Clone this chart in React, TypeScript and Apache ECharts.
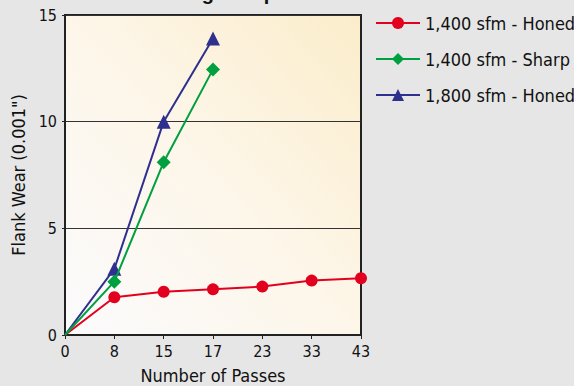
import React, { useEffect, useRef } from "react";
import * as echarts from "echarts";

const categories = ["0", "8", "15", "17", "23", "33", "43"];
const honed1400 = [0, 1.77, 2.03, 2.14, 2.27, 2.55, 2.66];
const sharp1400 = [0, 2.5, 8.1, 12.45, null, null, null];
const honed1800 = [0, 3.1, 10.0, 13.9, null, null, null];
const seriesNames = ["1,400 sfm - Honed", "1,400 sfm - Sharp", "1,800 sfm - Honed"];
const yTicks = { min: 0, max: 15, interval: 5 };

const FONT = "'DejaVu Sans Condensed', 'Liberation Sans Narrow', sans-serif";

// the origin point has no marker in the reference
const withHiddenOrigin = (arr: (number | null)[]) =>
  arr.map((v, i) => (i === 0 ? { value: v, symbol: "none" } : v));

export default function App() {
  const ref = useRef<HTMLDivElement>(null);
  useEffect(() => {
    document.body.style.margin = "0";
    const chart = echarts.init(ref.current!, null, { renderer: "svg" });
    chart.setOption({
      animation: false,
      backgroundColor: "#e6e6e6",
      textStyle: { fontFamily: FONT },
      graphic: [
        {
          type: "text",
          x: 145,
          y: -7,
          style: {
            text: "Honing Comparison",
            font: "bold 20px 'Liberation Sans', Arial, sans-serif",
            fill: "#111",
            textVerticalAlign: "middle",
          },
        },
      ],
      grid: {
        left: 65,
        right: 213,
        top: 15,
        bottom: 51,
        outerBoundsMode: "none",
        containLabel: false,
        show: true,
        borderColor: "#222",
        borderWidth: 2,
        backgroundColor: {
          type: "linear",
          x: 0,
          y: 1,
          x2: 1,
          y2: 0,
          colorStops: [
            { offset: 0, color: "#fbfbfd" },
            { offset: 0.5, color: "#fdf6e9" },
            { offset: 1, color: "#fbedcb" },
          ],
        },
      },
      legend: {
        orient: "vertical",
        left: 370,
        top: 9,
        itemWidth: 44,
        itemHeight: 15,
        itemGap: 18,
        textStyle: { fontFamily: FONT, fontSize: 18, color: "#111" },
        data: seriesNames,
      },
      xAxis: {
        type: "category",
        data: categories,
        boundaryGap: false,
        name: "Number of Passes",
        nameLocation: "middle",
        nameGap: 31,
        nameTextStyle: { fontFamily: FONT, fontSize: 18, color: "#111" },
        axisLine: { lineStyle: { color: "#222", width: 2 } },
        axisTick: { show: true, length: 4, lineStyle: { color: "#222" } },
        axisLabel: { fontFamily: FONT, fontSize: 16, color: "#111", margin: 8 },
        splitLine: { show: false },
      },
      yAxis: {
        type: "value",
        min: yTicks.min,
        max: yTicks.max,
        interval: yTicks.interval,
        name: 'Flank Wear (0.001")',
        nameLocation: "middle",
        nameGap: 28,
        nameTextStyle: { fontFamily: FONT, fontSize: 18, color: "#111" },
        axisLine: { show: true, lineStyle: { color: "#222", width: 2 } },
        axisTick: { show: true, length: 3, lineStyle: { color: "#222" } },
        axisLabel: { fontFamily: FONT, fontSize: 16, color: "#111", margin: 8 },
        splitLine: { show: true, lineStyle: { color: "#333", width: 1 } },
      },
      series: [
        {
          name: seriesNames[0],
          type: "line",
          data: withHiddenOrigin(honed1400),
          symbol: "circle",
          symbolSize: 12,
          showAllSymbol: true,
          color: "#e2001f",
          lineStyle: { width: 2 },
          z: 2,
        },
        {
          name: seriesNames[1],
          type: "line",
          data: withHiddenOrigin(sharp1400),
          symbol: "diamond",
          symbolSize: 14,
          color: "#00a040",
          lineStyle: { width: 2 },
          z: 4,
        },
        {
          name: seriesNames[2],
          type: "line",
          data: withHiddenOrigin(honed1800),
          symbol: "triangle",
          symbolSize: 14,
          color: "#2e2f8e",
          lineStyle: { width: 2 },
          z: 3,
        },
      ],
    });
    return () => chart.dispose();
  }, []);
  return (
    <div
      ref={ref}
      style={{ position: "absolute", left: 0, top: 0, width: 574, height: 386 }}
    />
  );
}
